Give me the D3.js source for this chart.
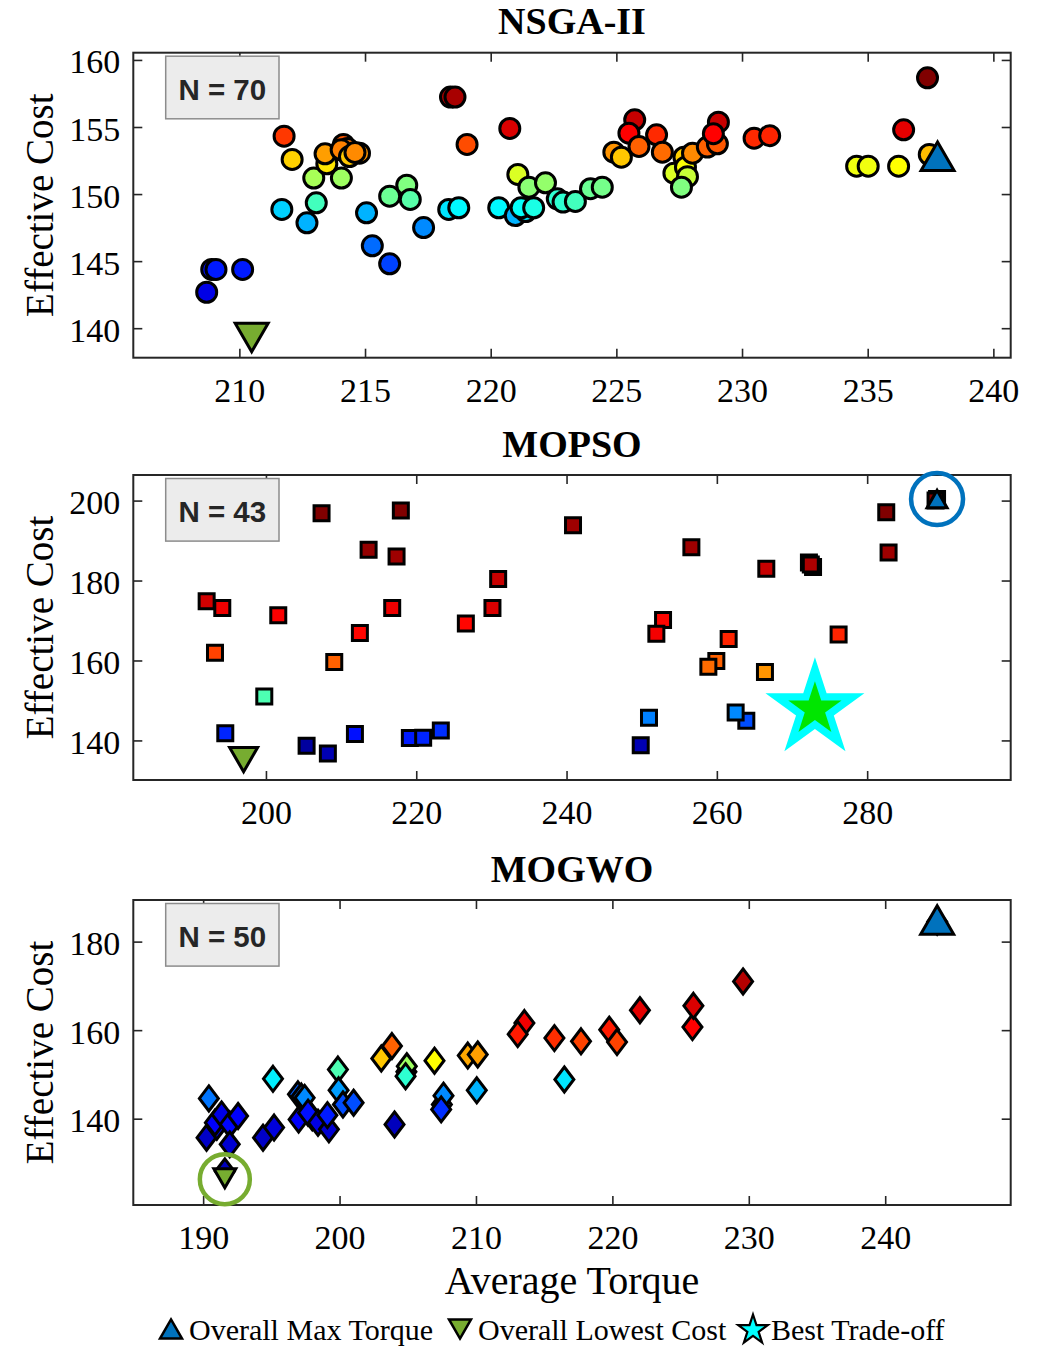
<!DOCTYPE html>
<html>
<head>
<meta charset="utf-8">
<script src="https://cdn.jsdelivr.net/npm/d3@7"></script>
<style>
  html, body { margin: 0; padding: 0; background: #fff; }
  svg { display: block; }
</style>
</head>
<body>
<svg id="chart" width="1049" height="1347"></svg>
<script>
// ---------- NSGA-II front ----------
const nsgaTorque = [208.90, 209.07, 208.70, 210.13, 211.78, 212.10, 211.69, 212.69, 213.06, 212.96,
  213.48, 214.14, 214.30, 213.41, 214.05, 214.78, 214.38, 214.06, 215.06, 215.29,
  215.98, 215.98, 216.66, 216.80, 217.33, 218.33, 218.73, 218.40, 218.58, 219.06,
  220.76, 220.32, 220.98, 221.40, 221.21, 221.71, 221.08, 221.52, 222.18, 222.65,
  222.88, 223.37, 223.97, 224.44, 224.90, 225.20, 225.73, 225.50, 225.90, 226.60,
  226.83, 227.29, 227.69, 227.75, 227.83, 227.59, 228.03, 228.62, 229.02, 229.06,
  228.86, 230.48, 231.10, 234.56, 235.02, 236.23, 236.43, 237.38, 237.45, 214.60];
const nsgaCost = [144.38, 144.38, 142.68, 144.38, 154.32, 152.58, 148.85, 147.86, 149.35, 151.19,
  152.26, 153.70, 153.40, 153.00, 153.30, 153.05, 152.80, 151.19, 148.60, 146.14,
  144.80, 149.84, 150.66, 149.60, 147.50, 148.85, 148.98, 157.23, 157.23, 153.70,
  154.89, 148.98, 148.40, 148.70, 148.98, 148.98, 151.46, 150.51, 150.84, 149.65,
  149.40, 149.45, 150.40, 150.51, 153.12, 152.75, 155.54, 154.54, 153.55, 154.42,
  153.12, 151.56, 152.75, 152.00, 151.30, 150.51, 153.05, 153.50, 153.75, 155.36,
  154.50, 154.17, 154.35, 152.08, 152.08, 152.08, 154.79, 158.67, 152.95, 153.10];
// colour-map index of each solution (jet, 0..1)
const nsgaColour = [0.14, 0.15, 0.10, 0.15, 0.82, 0.67, 0.33, 0.30, 0.44, 0.54,
  0.65, 0.79, 0.76, 0.72, 0.75, 0.73, 0.68, 0.53, 0.30, 0.23,
  0.19, 0.48, 0.50, 0.46, 0.26, 0.35, 0.37, 0.96, 0.96, 0.80,
  0.91, 0.37, 0.30, 0.35, 0.38, 0.40, 0.59, 0.51, 0.52, 0.42,
  0.42, 0.44, 0.48, 0.49, 0.73, 0.68, 0.93, 0.875, 0.78, 0.835,
  0.77, 0.59, 0.67, 0.62, 0.57, 0.50, 0.74, 0.78, 0.79, 0.93,
  0.875, 0.835, 0.84, 0.61, 0.61, 0.625, 0.90, 1.00, 0.69, 0.74];
const nsgaXTicks = [210, 215, 220, 225, 230, 235, 240];
const nsgaYTicks = [140, 145, 150, 155, 160];
const nsgaXLim = [205.78, 240.69];
const nsgaYLim = [137.8, 160.54];
const nsgaMaxTorque = [237.78, 152.82];
const nsgaLowestCost = [210.49, 139.31];

// ---------- MOPSO front ----------
const mopsoTorque = [207.40, 217.95, 213.66, 217.38, 230.90, 192.11, 194.19, 201.64, 216.80, 230.14,
  226.60, 212.50, 193.22, 209.09, 199.78, 194.59, 205.41, 208.24, 211.84, 219.15,
  220.92, 223.27, 240.86, 256.61, 266.58, 272.80, 272.25, 282.54, 282.85, 252.84,
  251.95, 261.57, 276.20, 259.93, 258.87, 266.40, 250.97, 263.92, 262.50, 249.87,
  289.30, 289.10, 272.50];
const mopsoCost = [196.86, 197.50, 187.70, 186.00, 180.40, 174.80, 173.10, 171.30, 173.10, 173.10,
  169.25, 166.90, 161.94, 159.60, 150.97, 141.80, 138.65, 136.76, 141.62, 140.62,
  140.70, 142.50, 193.80, 188.30, 182.97, 183.40, 184.50, 197.10, 187.00, 170.10,
  166.70, 165.40, 166.50, 159.85, 158.45, 157.10, 145.70, 144.90, 147.00, 138.80,
  200.40, 200.00, 184.00];
const mopsoColour = [1.00, 1.00, 0.98, 0.97, 0.93, 0.92, 0.89, 0.88, 0.89, 0.91,
  0.87, 0.87, 0.81, 0.78, 0.45, 0.16, 0.03, 0.05, 0.14, 0.15,
  0.16, 0.17, 0.97, 0.97, 0.93, 0.95, 0.96, 1.00, 0.97, 0.87,
  0.885, 0.84, 0.84, 0.78, 0.77, 0.73, 0.25, 0.20, 0.26, 0.05,
  1.00, 1.00, 0.955];
const mopsoXTicks = [200, 220, 240, 260, 280];
const mopsoYTicks = [140, 160, 180, 200];
const mopsoXLim = [182.35, 299.1];
const mopsoYLim = [130.1, 206.4];
const mopsoMaxTorque = [289.30, 200.40];
const mopsoLowestCost = [197.03, 135.20];
const mopsoBestTradeoff = [273.05, 147.80];

// ---------- MOGWO front ----------
const mogwoTorque = [190.42, 190.25, 191.00, 190.86, 191.35, 191.95, 192.56, 191.95, 191.59, 195.12,
  194.39, 195.20, 196.95, 197.20, 197.44, 197.00, 198.00, 197.69, 198.42, 199.22,
  199.11, 199.88, 199.93, 200.25, 201.03, 203.06, 203.84, 204.03, 204.90, 204.93,
  204.84, 206.96, 207.50, 207.62, 207.45, 209.40, 210.13, 210.06, 213.55, 213.06,
  215.75, 216.48, 217.70, 219.77, 220.34, 222.02, 225.87, 225.94, 229.58, 243.81];
const mogwoCost = [144.57, 135.70, 138.20, 139.10, 140.97, 138.70, 140.60, 134.20, 128.10, 149.00,
  135.70, 138.00, 145.50, 145.00, 144.70, 139.80, 140.30, 141.35, 139.10, 137.60,
  140.80, 151.10, 146.40, 143.20, 143.60, 153.60, 156.40, 138.70, 150.60, 151.85,
  149.60, 153.10, 143.20, 145.20, 142.10, 154.25, 154.50, 146.40, 161.60, 159.10,
  158.20, 148.85, 157.48, 160.10, 157.30, 164.50, 160.70, 165.50, 171.00, 184.50];
const mogwoColour = [0.24, 0.07, 0.10, 0.12, 0.10, 0.13, 0.12, 0.08, 0.06, 0.36,
  0.07, 0.09, 0.22, 0.24, 0.26, 0.12, 0.12, 0.14, 0.10, 0.08,
  0.15, 0.45, 0.28, 0.20, 0.20, 0.68, 0.78, 0.06, 0.47, 0.53,
  0.42, 0.625, 0.20, 0.26, 0.17, 0.71, 0.72, 0.30, 0.89, 0.85,
  0.83, 0.35, 0.81, 0.85, 0.81, 0.90, 0.875, 0.91, 0.95, 1.00];
const mogwoXTicks = [190, 200, 210, 220, 230, 240];
const mogwoYTicks = [140, 160, 180];
const mogwoXLim = [184.88, 249.2];
const mogwoYLim = [120.5, 189.4];
const mogwoMaxTorque = [243.81, 184.90];
const mogwoLowestCost = [191.59, 126.55];

const legendLabels = ["Overall Max Torque", "Overall Lowest Cost", "Best Trade-off"];

// ---------- drawing ----------
const svg = d3.select("#chart");
const SERIF = "'Liberation Serif', 'Times New Roman', serif";
const SANS = "'Liberation Sans', Arial, sans-serif";
const AX = "#262626";
const BLUE = "#0072BD", GREEN = "#77AC30";

function jet(t) {
  const c = v => Math.max(0, Math.min(1, v));
  const r = c(1.5 - Math.abs(4 * t - 3));
  const g = c(1.5 - Math.abs(4 * t - 2));
  const b = c(1.5 - Math.abs(4 * t - 1));
  return d3.rgb(r * 255, g * 255, b * 255).formatHex();
}

const shapes = {
  circle: () => d3.symbol(d3.symbolCircle, Math.PI * 10 * 10)(),
  square: () => { const h = 7.5; return `M${-h},${-h}H${h}V${h}H${-h}Z`; },
  diamond: () => { const w = 9.5, h = 12.5; return `M0,${-h}L${w},0L0,${h}L${-w},0Z`; }
};
function triPath(s, up) {
  const h = s * 0.866, d = up ? 1 : -1;
  return `M0,${-d * h / 2}L${s / 2},${d * h / 2}L${-s / 2},${d * h / 2}Z`;
}
function starPath(R) {
  const r = R * 0.382, pts = [];
  for (let i = 0; i < 10; i++) {
    const a = -Math.PI / 2 + i * Math.PI / 5, rr = i % 2 ? r : R;
    pts.push([rr * Math.cos(a), rr * Math.sin(a)]);
  }
  return "M" + pts.map(p => p.join(",")).join("L") + "Z";
}

const panels = [
  { title: "NSGA-II", top: 52.7, torque: nsgaTorque, cost: nsgaCost, colour: nsgaColour,
    xt: nsgaXTicks, yt: nsgaYTicks, xl: nsgaXLim, yl: nsgaYLim, shape: "circle",
    maxT: nsgaMaxTorque, lowC: nsgaLowestCost, upSize: 33, downSize: 33 },
  { title: "MOPSO", top: 475, torque: mopsoTorque, cost: mopsoCost, colour: mopsoColour,
    xt: mopsoXTicks, yt: mopsoYTicks, xl: mopsoXLim, yl: mopsoYLim, shape: "square",
    maxT: mopsoMaxTorque, lowC: mopsoLowestCost, best: mopsoBestTradeoff,
    upSize: 20, downSize: 28, ringMax: true },
  { title: "MOGWO", top: 900, torque: mogwoTorque, cost: mogwoCost, colour: mogwoColour,
    xt: mogwoXTicks, yt: mogwoYTicks, xl: mogwoXLim, yl: mogwoYLim, shape: "diamond",
    maxT: mogwoMaxTorque, lowC: mogwoLowestCost, upSize: 33, downSize: 22, ringLow: true }
];

const left = 133.3, right = 1010.7, ph = 305;

panels.forEach((p, idx) => {
  const top = p.top, bottom = top + ph;
  const x = d3.scaleLinear().domain(p.xl).range([left, right]);
  const y = d3.scaleLinear().domain(p.yl).range([bottom, top]);
  const g = svg.append("g");

  // axes box
  g.append("rect").attr("x", left).attr("y", top).attr("width", right - left).attr("height", ph)
    .attr("fill", "#fff").attr("stroke", AX).attr("stroke-width", 2);

  const tk = 9;
  const styleAxis = sel => {
    sel.select(".domain").remove();
    sel.selectAll(".tick line").attr("stroke", AX).attr("stroke-width", 1.6);
    sel.selectAll(".tick text").attr("fill", "#000").style("font-family", SERIF).style("font-size", "34px");
  };
  g.append("g").attr("transform", `translate(0,${bottom})`)
    .call(d3.axisBottom(x).tickValues(p.xt).tickSize(-tk).tickPadding(18).tickFormat(d3.format("d")))
    .call(styleAxis)
    .call(s => s.selectAll(".tick text").attr("y", 44).attr("dy", 0));
  g.append("g").attr("transform", `translate(0,${top})`)
    .call(d3.axisTop(x).tickValues(p.xt).tickSize(-tk).tickFormat(""))
    .call(styleAxis);
  g.append("g").attr("transform", `translate(${left},0)`)
    .call(d3.axisLeft(y).tickValues(p.yt).tickSize(-tk).tickFormat(d3.format("d")))
    .call(styleAxis)
    .call(s => s.selectAll(".tick text").attr("x", -13).attr("dy", 13));
  g.append("g").attr("transform", `translate(${right},0)`)
    .call(d3.axisRight(y).tickValues(p.yt).tickSize(-tk).tickFormat(""))
    .call(styleAxis);

  // title
  g.append("text").attr("x", 572).attr("y", top - 18.5).attr("text-anchor", "middle")
    .style("font-family", SERIF).style("font-size", "38px").style("font-weight", "bold")
    .text(p.title);

  // y label
  g.append("text").attr("transform", `translate(53,${top + ph / 2}) rotate(-90)`)
    .attr("text-anchor", "middle").style("font-family", SERIF).style("font-size", "39px")
    .text("Effective Cost");

  // population markers
  const pts = p.torque.map((t, i) => ({ t, c: p.cost[i], k: p.colour[i] }));
  g.append("g").selectAll("path").data(pts).join("path")
    .attr("transform", d => `translate(${x(d.t)},${y(d.c)})`)
    .attr("d", shapes[p.shape]())
    .attr("fill", d => jet(d.k)).attr("stroke", "#000").attr("stroke-width", 3)
    .attr("stroke-linejoin", "miter");

  // lowest cost (down triangle)
  if (p.ringLow) {
    g.append("circle").attr("cx", x(p.lowC[0])).attr("cy", y(p.lowC[1]) + 1).attr("r", 25)
      .attr("fill", "none").attr("stroke", GREEN).attr("stroke-width", 4.5);
  }
  g.append("path").attr("transform", `translate(${x(p.lowC[0])},${y(p.lowC[1])})`)
    .attr("d", triPath(p.downSize, false)).attr("fill", GREEN).attr("stroke", "#000")
    .attr("stroke-width", 3);

  // max torque (up triangle)
  if (p.ringMax) {
    g.append("circle").attr("cx", x(p.maxT[0])).attr("cy", y(p.maxT[1])).attr("r", 26)
      .attr("fill", "none").attr("stroke", BLUE).attr("stroke-width", 4.5);
  }
  g.append("path").attr("transform", `translate(${x(p.maxT[0])},${y(p.maxT[1])})`)
    .attr("d", triPath(p.upSize, true)).attr("fill", BLUE).attr("stroke", "#000")
    .attr("stroke-width", 3);

  // best trade-off star
  if (p.best) {
    const bx = x(p.best[0]), by = y(p.best[1]);
    g.append("path").attr("transform", `translate(${bx},${by})`).attr("d", starPath(52)).attr("fill", "#00FFFF");
    g.append("path").attr("transform", `translate(${bx},${by})`).attr("d", starPath(28)).attr("fill", "#00E600");
  }

  // population size badge
  g.append("rect").attr("x", 165.7).attr("y", top + 3.5).attr("width", 113.3).attr("height", 62.6)
    .attr("fill", "#ececec").attr("stroke", "#8c8c8c").attr("stroke-width", 1.5);
  g.append("text").attr("x", 222.3).attr("y", top + 47).attr("text-anchor", "middle")
    .style("font-family", SANS).style("font-weight", "bold").style("font-size", "29.5px")
    .attr("fill", "#262626").text(`N = ${p.torque.length}`);

  if (idx === 2) {
    g.append("text").attr("x", 572).attr("y", 1294).attr("text-anchor", "middle")
      .style("font-family", SERIF).style("font-size", "40px").text("Average Torque");
  }
});

// legend
const lg = svg.append("g");
const ly = 1329, lb = 1340;
const LFS = "30px";
lg.append("path").attr("transform", `translate(171,${ly})`).attr("d", triPath(22, true))
  .attr("fill", BLUE).attr("stroke", "#000").attr("stroke-width", 2.5);
lg.append("text").attr("x", 189).attr("y", lb).style("font-family", SERIF).style("font-size", LFS).text(legendLabels[0]);
lg.append("path").attr("transform", `translate(460,${ly})`).attr("d", triPath(22, false))
  .attr("fill", GREEN).attr("stroke", "#000").attr("stroke-width", 2.5);
lg.append("text").attr("x", 478).attr("y", lb).style("font-family", SERIF).style("font-size", LFS).text(legendLabels[1]);
lg.append("path").attr("transform", `translate(753,${ly + 1})`).attr("d", starPath(15.5))
  .attr("fill", "#00FFFF").attr("stroke", "#000").attr("stroke-width", 2.2);
lg.append("text").attr("x", 771).attr("y", lb).style("font-family", SERIF).style("font-size", LFS).text(legendLabels[2]);
</script>
</body>
</html>
